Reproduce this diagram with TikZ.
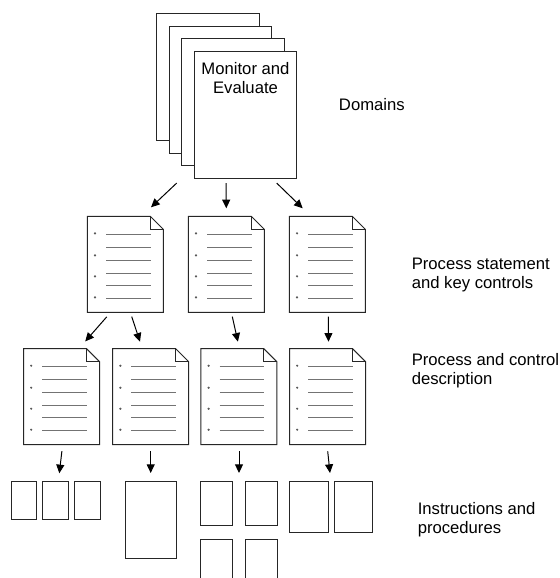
\documentclass[tikz,border=0pt]{standalone}
\usepackage{fontspec}
\setmainfont{Liberation Sans}
\usetikzlibrary{calc,arrows.meta}

\tikzset{
  frame/.style={draw=black!85, line width=0.75pt},
  sheet/.style={frame, fill=white, inner sep=0pt, outer sep=0pt},
  docnode/.style={inner sep=0pt, outer sep=0pt, minimum width=57pt, minimum height=72pt},
  rule/.style={draw=black!55, line width=0.75pt},
  dotc/.style={fill=black!65},
  arr/.style={draw=black, line width=0.75pt, -{Triangle[length=6.5pt,width=6pt]}},
  lbl/.style={inner sep=0pt, align=left, font=\fontsize{12.5}{14}\selectfont},
}

% a page with a dog-eared corner and bulleted rules
\newcommand\docsheet[3]{%
  \node[docnode] (#1) at (#2,#3) {};
  \draw[frame, fill=white] (#1.north west) -- ($(#1.north east)+(-13,0)$)
     -- ($(#1.north east)+(0,13)$) -- (#1.south east) -- (#1.south west) -- cycle;
  \draw[frame] ($(#1.north east)+(-13,0)$) |- ($(#1.north east)+(0,13)$);
  \foreach \k in {18,31,44,57,69,82}
    \draw[rule] ($(#1.north west)+(18.7,\k)$) -- ($(#1.north west)+(63.3,\k)$);
  \foreach \k in {17,39,60,81}
    \fill[dotc] ($(#1.north west)+(7.7,\k)$) circle (0.9pt);
}

\begin{document}
\begin{tikzpicture}[x=0.75pt, y=-0.75pt]
\useasboundingbox (0,0) rectangle (560,578);

% stack of domain pages
\node[sheet, minimum width=76.8pt, minimum height=95.5pt] (st1) at (208,77.2) {};
\node[sheet, minimum width=76.8pt, minimum height=95.5pt] (st2) at (220.5,89.7) {};
\node[sheet, minimum width=76.8pt, minimum height=95.5pt] (st3) at (233,102.2) {};
\node[sheet, minimum width=76.8pt, minimum height=95.5pt] (dom) at (245.5,114.7) {};
\node[lbl, align=center, anchor=north] (domtxt) at (245.5,62) {Monitor and\\Evaluate};

% process statements
\docsheet{s1}{125.3}{264.3}
\docsheet{s2}{226.3}{264.3}
\docsheet{s3}{327.3}{264.3}

% process and control descriptions
\docsheet{d1}{61.5}{396.7}
\docsheet{d2}{150.7}{396.7}
\docsheet{d3}{238.9}{396.7}
\docsheet{d4}{327.5}{396.7}

% instructions and procedures
\begin{scope}[every node/.style={sheet, anchor=north west}]
  \node[minimum width=19.3pt, minimum height=28.7pt] (i1a) at (11,481.7) {};
  \node[minimum width=19.5pt, minimum height=28.7pt] (i1b) at (42.7,481.7) {};
  \node[minimum width=19.5pt, minimum height=28.7pt] (i1c) at (74,481.7) {};
  \node[minimum width=38.25pt, minimum height=57.5pt] (i2) at (125,481.7) {};
  \node[minimum width=24pt, minimum height=33.2pt] (i3a) at (200.7,481.7) {};
  \node[minimum width=23.7pt, minimum height=33.2pt] (i3b) at (245.7,481.7) {};
  \node[minimum width=24pt, minimum height=33.2pt] (i3c) at (200.7,539) {};
  \node[minimum width=23.7pt, minimum height=33.2pt] (i3d) at (245.7,539) {};
  \node[minimum width=29.25pt, minimum height=38.25pt] (i4a) at (289.3,481.7) {};
  \node[minimum width=28.5pt, minimum height=38.25pt] (i4b) at (334,481.7) {};
\end{scope}

% connectors
\draw[arr] ($(dom.south)+(-68.8,4.7)$) -- ($(s1.north)+(25.7,-9)$);
\draw[arr] ($(dom.south)+(-19.5,4.7)$) -- ($(s2.north)+(0,-8)$);
\draw[arr] ($(dom.south)+(31.2,4.7)$) -- ($(s3.north)+(-24.6,-8)$);

\draw[arr] ($(s1.south)+(-18.6,4.6)$) -- ($(d1.north)+(23.7,-7.3)$);
\draw[arr] ($(s1.south)+(6.4,4.3)$) -- ($(d2.north)+(-10.7,-7)$);
\draw[arr] ($(s2.south)+(6,4.3)$) -- ($(d3.north)+(-1,-7)$);
\draw[arr] ($(s3.south)+(1,4.3)$) -- ($(d4.north)+(1,-7)$);

\draw[arr] ($(d1.south)+(0.4,6.4)$) -- ($(i1b.north)+(3.6,-8.4)$);
\draw[arr] ($(d2.south)+(0,6.6)$) -- ($(i2.north)+(0.2,-8.7)$);
\draw[arr] ($(d3.south)+(0.1,6.6)$) -- ($(i3a.north east)+(6.3,-8.7)$);
\draw[arr] ($(d4.south)+(0.2,6.6)$) -- ($(i4a.north east)+(1.7,-8.7)$);

% level captions
\node[lbl, anchor=north east] (cap0) at (405,98) {Domains};
\node[lbl, anchor=north west] (cap1) at (411.5,258) {Process statement\\and key controls};
\node[lbl, anchor=north west] (cap2) at (411.5,353) {Process and control\\description};
\node[lbl, anchor=north west] (cap3) at (417.5,502) {Instructions and\\procedures};
\end{tikzpicture}
\end{document}
